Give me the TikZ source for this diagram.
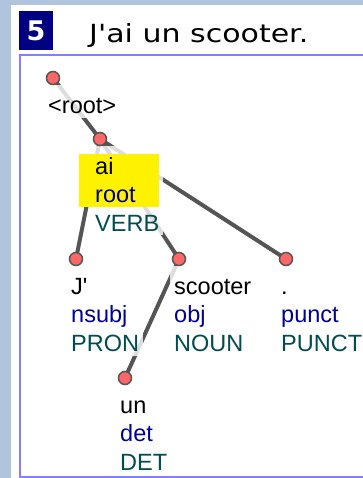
\documentclass[tikz,border=0pt]{standalone}
\usepackage{fontspec}
\setmainfont{Liberation Sans}
\newfontfamily\titlefont{DejaVu Sans}
\usetikzlibrary{calc,backgrounds}
\definecolor{bgblue}{HTML}{B0C4DE}
\definecolor{framecol}{RGB}{128,128,255}
\definecolor{boxnavy}{RGB}{0,0,128}
\definecolor{edgegray}{RGB}{85,85,85}
\definecolor{dotred}{RGB}{255,102,102}
\definecolor{relblue}{RGB}{0,0,153}
\definecolor{posteal}{RGB}{0,76,80}
\newcommand{\rel}[1]{{\color{relblue}#1}}
\newcommand{\upos}[1]{{\color{posteal}#1}}
\newcommand{\tstrut}{\rule{0pt}{24pt}}
\newcommand{\tkn}[3]{\tstrut#1\\\rel{#2}\\\upos{#3}}

\tikzset{
  dep/.style={edgegray, line width=4pt},
  tok/.style={circle, draw=edgegray, fill=dotred, line width=1.5pt,
    minimum size=13pt, inner sep=0pt},
  lbl/.style={anchor=north west, align=left, inner xsep=4pt, inner ysep=4pt,
    font=\fontsize{23.5}{28.5}\selectfont},
}

\begin{document}
\begin{tikzpicture}[x=1pt,y=-1pt]
\useasboundingbox (0,0) rectangle (363,478);

% header
\fill[boxnavy] (19,11) rectangle (53,50);
\node[white, font=\titlefont\bfseries\fontsize{27}{27}\selectfont] (num) at (36,31) {5};
\node[anchor=base west, inner sep=0pt, xscale=1.2, transform shape,
      font=\titlefont\fontsize{25}{25}\selectfont] (title) at (89,43) {J'ai un scooter.};
\draw[framecol, line width=2pt] (364,55) -- (20,55) -- (20,477) -- (364,477);

% tokens
\coordinate (root)    at (53,78);
\coordinate (ai)      at (100,139);
\coordinate (J)       at (76,259);
\coordinate (scooter) at (179,259);
\coordinate (punct)   at (286,259);
\coordinate (un)      at (125,378);

\node[lbl] (lroot)    at ($(root)+(-9,7)$)    {\tstrut<root>};
\node[lbl] (lai)      at ($(ai)+(-9,7)$)      {\tkn{ai}{root}{VERB}};
\node[lbl] (lJ)       at ($(J)+(-9,7)$)       {\tkn{J\textquotesingle}{nsubj}{PRON}};
\node[lbl] (lscooter) at ($(scooter)+(-9,7)$) {\tkn{scooter}{obj}{NOUN}};
\node[lbl] (lpunct)   at ($(punct)+(-9,7)$)   {\tkn{.}{punct}{PUNCT}};
\node[lbl] (lun)      at ($(un)+(-9,7)$)      {\tkn{un}{det}{DET}};

\begin{scope}[on background layer]
  \fill[bgblue] (0,0) rectangle (363,478);
  \fill[white] (11,5) rectangle (363,478);
  \draw[dep] (root) -- (ai);
  \foreach \t in {J,scooter,punct}
    \draw[dep] (ai) -- (\t);
  \draw[dep] (scooter) -- (un);
  \foreach \l in {lroot,lai,lJ,lscooter,lpunct,lun}
    \fill[white, fill opacity=.8] (\l.north west) rectangle (\l.south east);
  \fill[yellow] (79,154) rectangle (159,207);
\end{scope}

\foreach \t in {root,ai,J,scooter,punct,un}
  \node[tok] (c-\t) at (\t) {};
\end{tikzpicture}
\end{document}
